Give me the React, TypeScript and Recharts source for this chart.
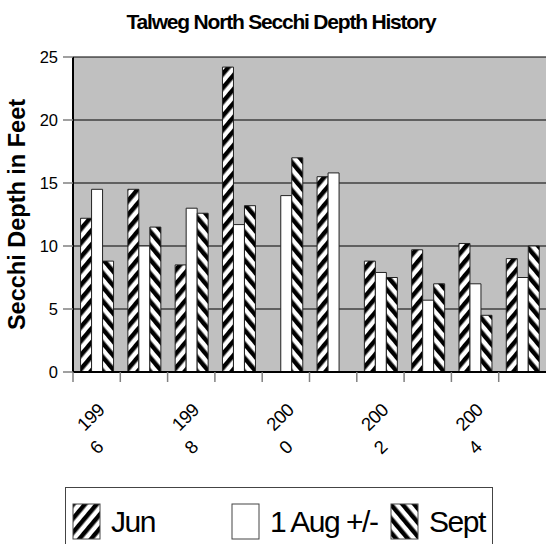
import React from 'react';
import { BarChart, Bar, XAxis, YAxis, CartesianGrid, Label } from 'recharts';

const categories = ['1996', '1997', '1998', '1999', '2000', '2001', '2002', '2003', '2004', '2005'];
const junValues: (number | null)[] = [12.2, 14.5, 8.5, 24.2, null, 15.5, 8.8, 9.7, 10.2, 9.0];
const augValues: (number | null)[] = [14.5, 10.0, 13.0, 11.7, 14.0, 15.8, 7.9, 5.7, 7.0, 7.5];
const septValues: (number | null)[] = [8.8, 11.5, 12.6, 13.2, 17.0, null, 7.5, 7.0, 4.5, 10.0];
const tickLabelLines: (string[] | null)[] = [
  ['199', '6'], null, ['199', '8'], null, ['200', '0'], null, ['200', '2'], null, ['200', '4'], null,
];
const yTicks = [0, 5, 10, 15, 20, 25];
const seriesNames = ['Jun', '1 Aug +/-', 'Sept'];
const title = 'Talweg North Secchi Depth History';
const yTitle = 'Secchi Depth in Feet';

const data = categories.map((c, i) => ({
  year: c,
  jun: junValues[i],
  aug: augValues[i],
  sept: septValues[i],
}));

const FONT = '"Liberation Sans", Arial, sans-serif';

const Patterns = ({ prefix }: { prefix: string }) => (
  <defs>
    <pattern id={`${prefix}up`} patternUnits="userSpaceOnUse" width="9" height="9" patternTransform="rotate(40)">
      <rect x="0" y="0" width="9" height="9" fill="#ffffff" />
      <rect x="0" y="0" width="4.5" height="9" fill="#000000" />
    </pattern>
    <pattern id={`${prefix}down`} patternUnits="userSpaceOnUse" width="9" height="9" patternTransform="rotate(-40)">
      <rect x="0" y="0" width="9" height="9" fill="#ffffff" />
      <rect x="0" y="0" width="4.5" height="9" fill="#000000" />
    </pattern>
  </defs>
);

const XTick = (props: any) => {
  const { x, y, payload, width } = props;
  const idx = payload?.index ?? props.index ?? 0;
  const half = typeof payload?.offset === 'number' && payload.offset > 0 ? payload.offset : width / categories.length / 2;
  const lines = tickLabelLines[idx];
  const bx = x - half;
  return (
    <g>
      <line x1={bx} x2={bx} y1={y} y2={y + 10} stroke="#808080" strokeWidth={1.5} />
      {lines && (
        <g fontFamily={FONT} fontSize={18.5} fill="#000">
          <text
            x={x - 6}
            y={y + 45}
            textAnchor="middle"
            dominantBaseline="central"
            letterSpacing={-0.5}
            transform={`rotate(-45 ${x - 6} ${y + 45})`}
          >
            {lines[0]}
          </text>
          <text
            x={x}
            y={y + 75}
            textAnchor="middle"
            dominantBaseline="central"
            transform={`rotate(-45 ${x} ${y + 75})`}
          >
            {lines[1]}
          </text>
        </g>
      )}
    </g>
  );
};

const YTitle = (props: any) => {
  const vb = props.viewBox || { x: 0, y: 57, width: 73, height: 315 };
  const cx = vb.x + 25;
  const cy = vb.y + vb.height / 2;
  return (
    <text
      x={cx}
      y={cy}
      textAnchor="middle"
      transform={`rotate(-90 ${cx} ${cy})`}
      fontFamily={FONT}
      fontWeight="bold"
      fontSize={23.5}
      fill="#000"
    >
      {yTitle}
    </text>
  );
};

const legendFills = ['lgup', '#ffffff', 'lgdown'];
const legendLefts = [73, 232, 391];

export default function App() {
  return (
    <div style={{ position: 'absolute', left: 0, top: 0, width: 548, height: 544, overflow: 'hidden', background: '#fff' }}>
      <div
        style={{
          position: 'absolute',
          left: 0,
          top: 10,
          width: 562,
          textAlign: 'center',
          fontFamily: FONT,
          fontWeight: 'bold',
          fontSize: 21,
          letterSpacing: -1.2,
          lineHeight: '24px',
          color: '#000',
        }}
      >
        {title}
      </div>
      <BarChart
        width={548}
        height={544}
        data={data}
        margin={{ top: 57, right: 2, bottom: 0, left: 0 }}
        barCategoryGap="16%"
        barGap={0}
      >
        <Patterns prefix="" />
        <CartesianGrid vertical={false} fill="#c0c0c0" stroke="#000" strokeWidth={1.2} fillOpacity={1} />
        <XAxis
          dataKey="year"
          height={172}
          tickSize={0}
          tickMargin={0}
          interval={0}
          tick={<XTick />}
          axisLine={{ stroke: '#000', strokeWidth: 2 }}
        />
        <YAxis
          width={73}
          domain={[0, 25]}
          ticks={yTicks}
          tickSize={10}
          tickMargin={5}
          tick={{ fontFamily: FONT, fontSize: 16.5, fill: '#000' }}
          tickLine={{ stroke: '#808080', strokeWidth: 1.5 }}
          axisLine={{ stroke: '#000', strokeWidth: 2 }}
          interval={0}
        >
          <Label content={<YTitle />} />
        </YAxis>
        <Bar dataKey="jun" name={seriesNames[0]} fill="url(#up)" stroke="#222" strokeWidth={1} isAnimationActive={false} />
        <Bar dataKey="aug" name={seriesNames[1]} fill="#ffffff" stroke="#222" strokeWidth={1} isAnimationActive={false} />
        <Bar dataKey="sept" name={seriesNames[2]} fill="url(#down)" stroke="#222" strokeWidth={1} isAnimationActive={false} />
      </BarChart>
      <div
        style={{
          position: 'absolute',
          left: 65,
          top: 487,
          width: 428,
          height: 80,
          border: '1.5px solid #444',
          boxSizing: 'border-box',
        }}
      />
      <svg style={{ position: 'absolute', left: 0, top: 0 }} width={548} height={544}>
        <Patterns prefix="lg" />
        {seriesNames.map((n, i) => {
          const f = legendFills[i];
          const fill = f.startsWith('#') ? f : `url(#${f})`;
          const lx = legendLefts[i];
          return (
            <g key={n}>
              <rect x={lx} y={504} width={27} height={35} fill={fill} stroke="#444" strokeWidth={1} />
              <text x={lx + 38} y={532} fontFamily={FONT} fontSize={30} letterSpacing={-1.5} fill="#000">
                {n}
              </text>
            </g>
          );
        })}
      </svg>
    </div>
  );
}
